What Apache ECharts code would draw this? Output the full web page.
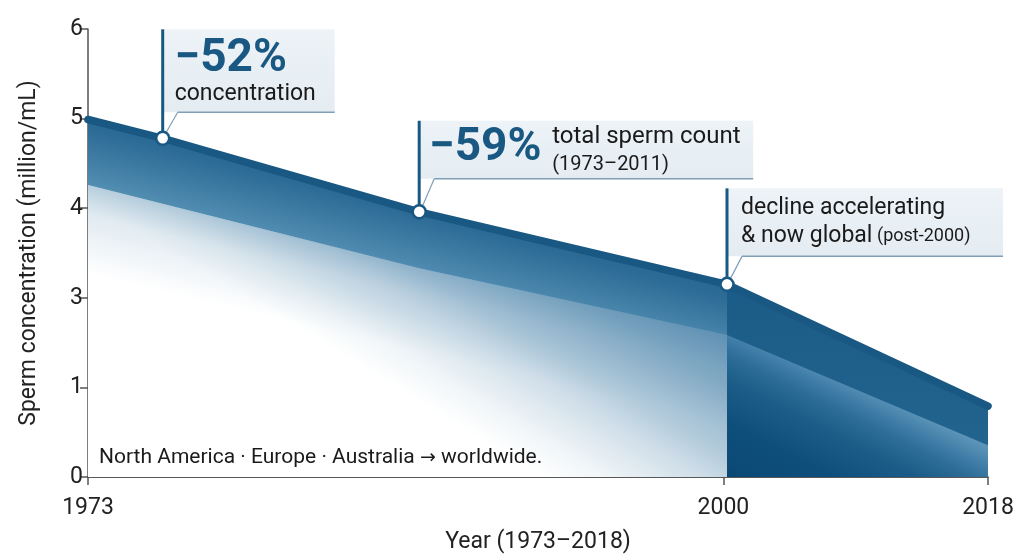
<!DOCTYPE html>
<html><head><meta charset="utf-8">
<script src="https://cdn.jsdelivr.net/npm/echarts@6/dist/echarts.min.js"></script>
<style>html,body{margin:0;padding:0;background:#fff}#c{width:1024px;height:559px}</style>
</head><body><div id="c"></div>
<script>
// ---- data (in the chart's drawn axis units) ----
const xTickValues = [0, 70.6, 100];
const xTickLabels = ['1973', '2000', '2018'];
const yTickLabels = ['0', '1', '3', '4', '5', '6'];
const topLineX = [0, 8.3, 36.8, 71.0, 100];
const topLineY = [3.99, 3.78, 2.96, 2.15, 0.79];
const lowerLeftX = [0, 36.8, 71.0];
const lowerLeftY = [3.26, 2.33, 1.585];
const lowerRightX = [71.0, 100];
const lowerRightY = [1.585, 0.355];
const markedPoints = [1, 2, 3];
const xName = 'Year (1973–2018)';
const yName = 'Sperm concentration (million/mL)';
const noteParts = ['North America · Europe · Australia ', '→', ' worldwide.'];
const callout1 = ['−52%', 'concentration'];
const callout2 = ['−59%', 'total sperm count', '(1973–2011)'];
const callout3 = ['decline accelerating', '& now global', '(post-2000)'];

const FONT = 'Roboto, "Noto Sans", sans-serif';
const LINE = '#1a5884';
const pair = (xs, ys) => xs.map((x, i) => [x, ys[i]]);
const topLine = pair(topLineX, topLineY);
const lowerLeft = pair(lowerLeftX, lowerLeftY);
const splitX = lowerLeftX[lowerLeftX.length - 1];
const LG = echarts.graphic.LinearGradient;
const glow = a => `rgba(58,120,162,${a})`;

const chart = echarts.init(document.getElementById('c'));
const areaBase = {type: 'line', symbol: 'none', silent: true, lineStyle: {opacity: 0}, animation: false};
chart.setOption({
  animation: false,
  grid: {left: 88, right: 36, top: 29, bottom: 79},
  xAxis: {
    type: 'value', min: 0, max: 100,
    name: xName, nameLocation: 'middle', nameGap: 54,
    nameTextStyle: {fontFamily: FONT, fontSize: 23, color: '#222'},
    axisLine: {lineStyle: {color: '#222', width: 1.5}},
    axisTick: {show: true, length: 8, customValues: xTickValues, lineStyle: {color: '#555', width: 1.5}},
    axisLabel: {customValues: xTickValues, margin: 20, fontFamily: FONT, fontSize: 23, color: '#222',
      formatter: v => { const i = xTickValues.indexOf(v); return i >= 0 ? xTickLabels[i] : ''; }},
    splitLine: {show: false}
  },
  yAxis: {
    type: 'value', min: 0, max: 5, interval: 1,
    name: yName, nameLocation: 'middle', nameGap: 47, nameRotate: 90,
    nameTextStyle: {fontFamily: FONT, fontSize: 23, color: '#222'},
    axisLine: {show: true, lineStyle: {color: '#555', width: 1.5}},
    axisTick: {show: true, length: 8, lineStyle: {color: '#555', width: 1.5}},
    axisLabel: {margin: 5, fontFamily: FONT, fontSize: 23, color: '#222',
      formatter: v => yTickLabels[Math.round(v)]},
    splitLine: {show: false}
  },
  series: [
    Object.assign({}, areaBase, {
      data: topLine.filter(p => p[0] <= splitX), z: 1,
      areaStyle: {opacity: 1, color: new LG(0, 0, -0.027, 0.182, [
        {offset: 0, color: '#2a6993'}, {offset: 0.12, color: '#2c6b95'}, {offset: 1, color: '#5590b4'}])}
    }),
    Object.assign({}, areaBase, {
      data: topLine.filter(p => p[0] >= splitX), z: 1,
      areaStyle: {opacity: 1, color: new LG(0, 0, 0, 1, [
        {offset: 0, color: '#1b5b87'}, {offset: 1, color: '#236690'}])}
    }),
    Object.assign({}, areaBase, {
      data: lowerLeft, z: 2,
      areaStyle: {opacity: 1, color: new LG(0, 0.057, 0.173, -0.568, [
        {offset: 0, color: '#ffffff'}, {offset: 0.148, color: '#f1f6f8'},
        {offset: 0.396, color: '#cedde8'}, {offset: 0.52, color: '#b4ccdc'},
        {offset: 0.816, color: '#89aec7'}, {offset: 1, color: '#75a0be'}])}
    }),
    Object.assign({}, areaBase, {
      data: lowerLeft, z: 3,
      areaStyle: {opacity: 1, color: new LG(0, 0, -0.031, 0.29, [
        {offset: 0, color: glow(0.34)}, {offset: 0.35, color: glow(0.15)}, {offset: 1, color: glow(0)}])}
    }),
    Object.assign({}, areaBase, {
      data: pair(lowerRightX, lowerRightY), z: 2,
      areaStyle: {opacity: 1, color: new LG(0, 1.024, 0.261, 0.073, [
        {offset: 0, color: '#0a4874'}, {offset: 0.35, color: '#0f4f7c'},
        {offset: 0.59, color: '#1b5d88'}, {offset: 0.75, color: '#2d6d98'},
        {offset: 0.84, color: '#3e7ca6'}, {offset: 0.97, color: '#5c94b8'},
        {offset: 1, color: '#5e96b9'}])}
    }),
    {
      type: 'line', z: 5, silent: true, animation: false,
      data: topLine.map((p, i) => markedPoints.includes(i)
        ? {value: p, symbol: 'circle', symbolSize: 13}
        : {value: p, symbol: 'none'}),
      showAllSymbol: true,
      lineStyle: {color: LINE, width: 7.5, cap: 'round', join: 'round'},
      itemStyle: {color: '#ffffff', borderColor: LINE, borderWidth: 2.5}
    }
  ]
});

// ---- annotations anchored on the data points ----
const graphics = [];
function txt(x, y, text, size, weight, color) {
  graphics.push({type: 'text', z: 20, silent: true,
    style: {x, y, text, fill: color, font: `${weight} ${size}px ${FONT}`, align: 'left', verticalAlign: 'middle'}});
}
function box(pointIdx, w, top, bottom) {
  const [ax, ay] = chart.convertToPixel({gridIndex: 0}, topLine[pointIdx]);
  graphics.push({type: 'rect', z: 1, silent: true,
    shape: {x: ax, y: ay + top, width: w, height: bottom - top},
    style: {fill: new LG(0, 0, 0, 1, [{offset: 0, color: '#edf3f7'}, {offset: 1, color: '#e4ecf2'}])}});
  graphics.push({type: 'line', z: 2, silent: true,
    shape: {x1: ax + 15, y1: ay + bottom, x2: ax + w, y2: ay + bottom},
    style: {stroke: '#7f9fb7', lineWidth: 1.5}});
  graphics.push({type: 'line', z: 2, silent: true,
    shape: {x1: ax + 3, y1: ay - 5, x2: ax + 15, y2: ay + bottom},
    style: {stroke: '#7f9fb7', lineWidth: 1.2}});
  graphics.push({type: 'line', z: 3, silent: true,
    shape: {x1: ax, y1: ay + top, x2: ax, y2: ay - 6},
    style: {stroke: LINE, lineWidth: 3}});
  return [ax, ay];
}
let a = box(1, 172, -109, -26);
txt(a[0] + 12, a[1] - 79, callout1[0], 46, 'bold', LINE);
txt(a[0] + 12, a[1] - 44, callout1[1], 23, 'normal', '#1a1a1a');
a = box(2, 334, -91, -33);
txt(a[0] + 10, a[1] - 63, callout2[0], 46, 'bold', LINE);
txt(a[0] + 133, a[1] - 75, callout2[1], 24, 'normal', '#1a1a1a');
txt(a[0] + 133, a[1] - 47, callout2[2], 20, 'normal', '#1a1a1a');
a = box(3, 276, -96, -28);
txt(a[0] + 14, a[1] - 76, callout3[0], 23, 'normal', '#1a1a1a');
txt(a[0] + 14, a[1] - 48, callout3[1], 23, 'normal', '#1a1a1a');
txt(a[0] + 150, a[1] - 48, callout3[2], 18, 'normal', '#1a1a1a');
graphics.push({type: 'text', z: 20, silent: true,
  style: {x: 99, y: 458, align: 'left', verticalAlign: 'middle',
    text: `{a|${noteParts[0]}}{b|${noteParts[1]}}{a|${noteParts[2]}}`,
    rich: {
      a: {fontFamily: FONT, fontSize: 21, fill: '#1a1a1a', color: '#1a1a1a'},
      b: {fontFamily: '"DejaVu Sans", sans-serif', fontSize: 19, fill: '#1a1a1a', color: '#1a1a1a'}
    }}});
chart.setOption({graphic: graphics});
</script></body></html>
